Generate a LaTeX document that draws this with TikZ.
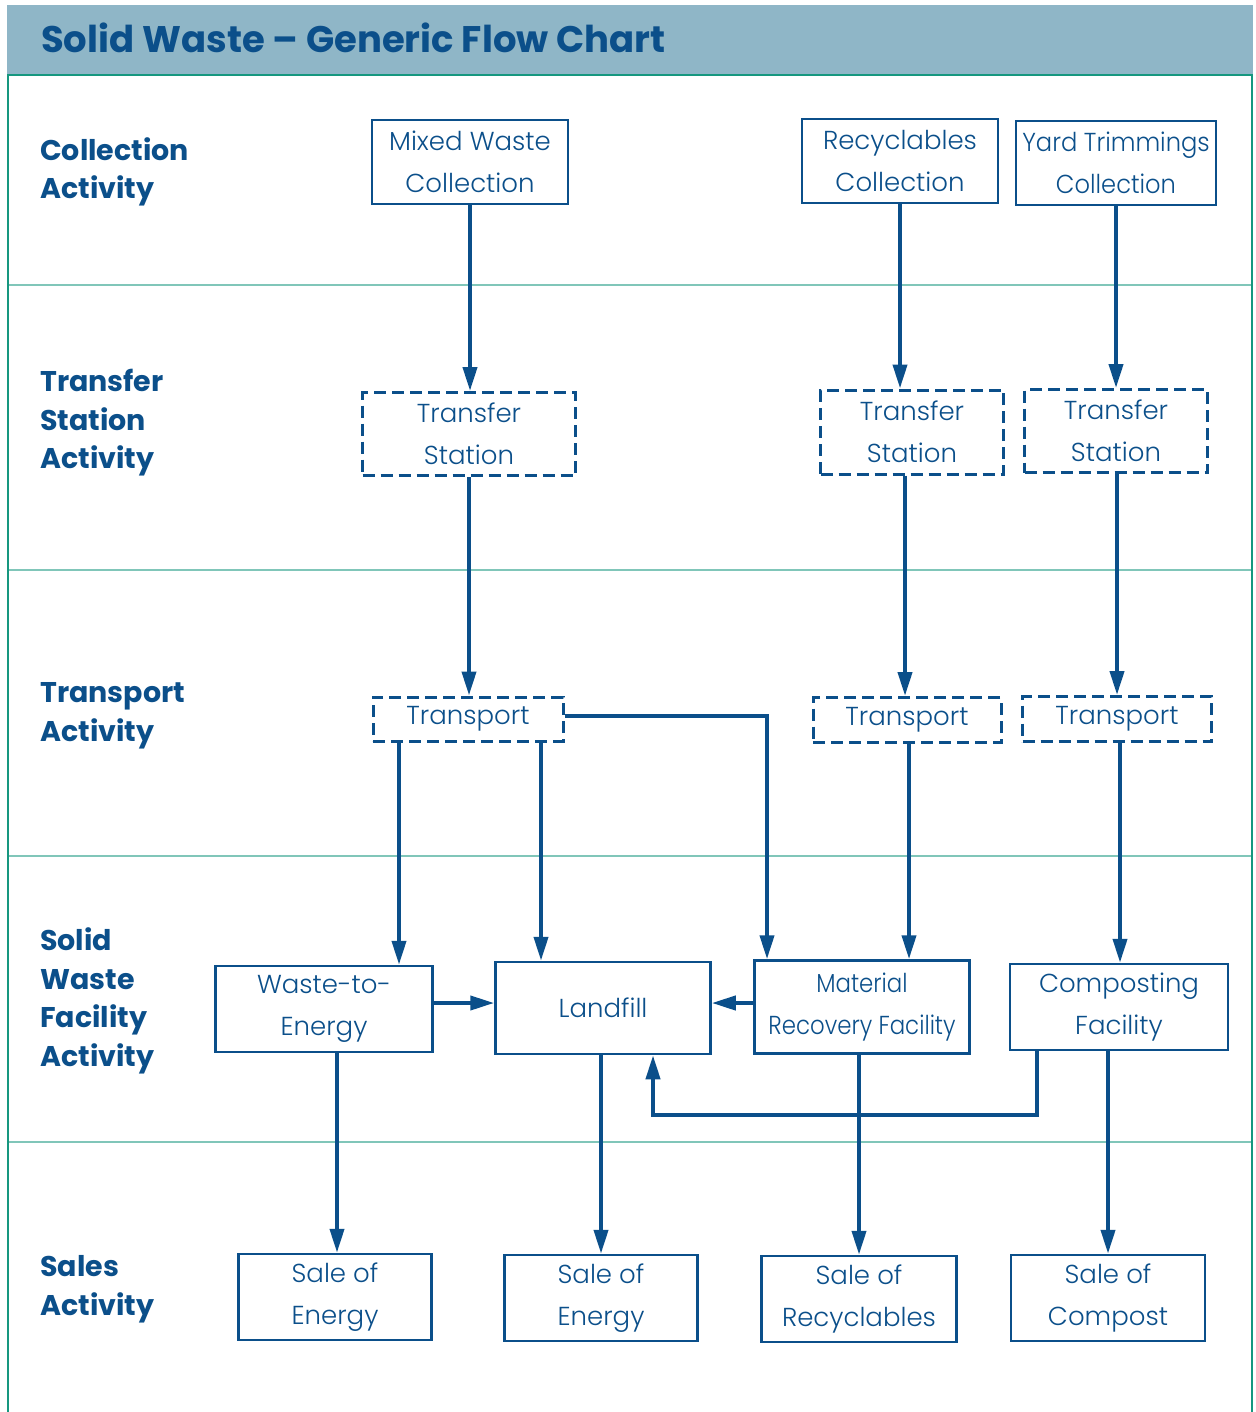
\documentclass[tikz,border=0pt]{standalone}
\usepackage{fontspec}
\setmainfont{Poppins}[UprightFont=* Light, BoldFont=* Bold]
\usetikzlibrary{arrows.meta,calc}

\definecolor{wasteblue}{HTML}{0B4F8A}
\definecolor{headbg}{HTML}{8FB6C7}
\definecolor{frameteal}{HTML}{16977F}
\definecolor{septeal}{HTML}{80C6B9}

\tikzset{
  box/.style={draw=wasteblue, line width=2.5pt, align=center, inner sep=0pt,
    text=wasteblue, font=\fontsize{26}{42}\selectfont},
  dbox/.style={box, line width=3pt, dash pattern=on 12pt off 6pt},
  rowlabel/.style={anchor=west, align=left, inner sep=0pt, text=wasteblue,
    font=\fontsize{28.5}{38.5}\selectfont\bfseries},
  flow/.style={draw=wasteblue, line width=4pt,
    -{Triangle[length=24pt,width=14pt]}},
}

\begin{document}
\begin{tikzpicture}[x=1pt,y=-1pt]
\useasboundingbox (0,0) rectangle (1255,1412);

% header band and frame
\fill[headbg] (7,5) rectangle (1253,74);
\node[anchor=west, inner sep=0pt, text=wasteblue, font=\fontsize{37}{40}\selectfont\bfseries]
  (title) at (41,38) {Solid Waste -- Generic Flow Chart};
\draw[frameteal, line width=2.5pt] (8,1412) -- (8,75) -- (1252,75) -- (1252,1412);
\foreach \y in {285,570,856,1142}
  \draw[septeal, line width=2pt] (9,\y) -- (1251,\y);

% row labels
\node[rowlabel] (lcollect) at (40,172) {Collection\\Activity};
\node[rowlabel] (ltransfer) at (40,423) {Transfer\\Station\\Activity};
\node[rowlabel] (ltransport) at (40,716) {Transport\\Activity};
\node[rowlabel] (lfacility) at (40,1001) {Solid\\Waste\\Facility\\Activity};
\node[rowlabel] (lsales) at (40,1289) {Sales\\Activity};

% collection
\node[box, minimum width=196pt, minimum height=84pt] (mixcol) at (470,162) {Mixed Waste\\Collection};
\node[box, minimum width=196pt, minimum height=84pt] (reccol) at (900,161) {Recyclables\\Collection};
\node[box, minimum width=200pt, minimum height=84pt] (yardcol) at (1116,163)
  {\addfontfeature{FakeStretch=0.93}Yard Trimmings\\\addfontfeature{FakeStretch=0.93}Collection};

% transfer stations
\node[dbox, minimum width=213pt, minimum height=83pt] (ts1) at (469,434) {Transfer\\Station};
\node[dbox, minimum width=183pt, minimum height=84pt] (ts2) at (912,432) {Transfer\\Station};
\node[dbox, minimum width=183pt, minimum height=83pt] (ts3) at (1116,431) {Transfer\\Station};

% transport
\node[dbox, minimum width=190pt, minimum height=44pt] (tp1) at (468,719) {Transport};
\node[dbox, minimum width=188pt, minimum height=45pt] (tp2) at (907,720) {Transport};
\node[dbox, minimum width=189pt, minimum height=45pt] (tp3) at (1117,719) {Transport};

% facilities
\node[box, minimum width=217pt, minimum height=86pt] (wte) at (324,1009) {Waste-to-\\Energy};
\node[box, minimum width=215pt, minimum height=92pt] (landfill) at (603,1008) {Landfill};
\node[box, minimum width=215pt, minimum height=93pt] (mrf) at (862,1007)
  {\addfontfeature{FakeStretch=0.88}Material\\\addfontfeature{FakeStretch=0.88}Recovery Facility};
\node[box, minimum width=218pt, minimum height=86pt] (comp) at (1119,1007) {Composting\\Facility};

% sales
\node[box, minimum width=193pt, minimum height=86pt] (senergy) at (335,1297) {Sale of\\Energy};
\node[box, minimum width=193pt, minimum height=86pt] (senergyb) at (601,1298) {Sale of\\Energy};
\node[box, minimum width=195pt, minimum height=86pt] (srec) at (859,1299) {Sale of\\Recyclables};
\node[box, minimum width=194pt, minimum height=86pt] (scomp) at (1108,1298) {Sale of\\Compost};

% flows
\draw[flow] (mixcol.south) -- (mixcol.south |- ts1.north);
\draw[flow] (reccol.south) -- (reccol.south |- ts2.north);
\draw[flow] (yardcol.south) -- (yardcol.south |- ts3.north);
\draw[flow] (ts1.south) -- (ts1.south |- tp1.north);
\draw[flow] (ts2.south -| 905,0) -- (tp2.north -| 905,0);
\draw[flow] (ts3.south -| 1117,0) -- (tp3.north -| 1117,0);
\draw[flow] (tp1.south -| 399,0) -- (wte.north -| 399,0);
\draw[flow] (tp1.south -| 541,0) -- (landfill.north -| 541,0);
\draw[flow] (tp1.east |- 0,716) -| (mrf.north -| 767,0);
\draw[flow] (tp2.south -| 909,0) -- (mrf.north -| 909,0);
\draw[flow] (tp3.south -| 1120,0) -- (comp.north -| 1120,0);
\draw[flow] (wte.east |- 0,1003) -- (landfill.west |- 0,1003);
\draw[flow] (mrf.west |- 0,1003) -- (landfill.east |- 0,1003);
\draw[flow] (comp.south -| 1037,0) -- (1037,1115) -| (landfill.south -| 653,0);
\draw[flow] (wte.south -| 337,0) -- (senergy.north -| 337,0);
\draw[flow] (landfill.south -| 601,0) -- (senergyb.north -| 601,0);
\draw[flow] (mrf.south -| 859,0) -- (srec.north -| 859,0);
\draw[flow] (comp.south -| 1108,0) -- (scomp.north -| 1108,0);
\end{tikzpicture}
\end{document}
